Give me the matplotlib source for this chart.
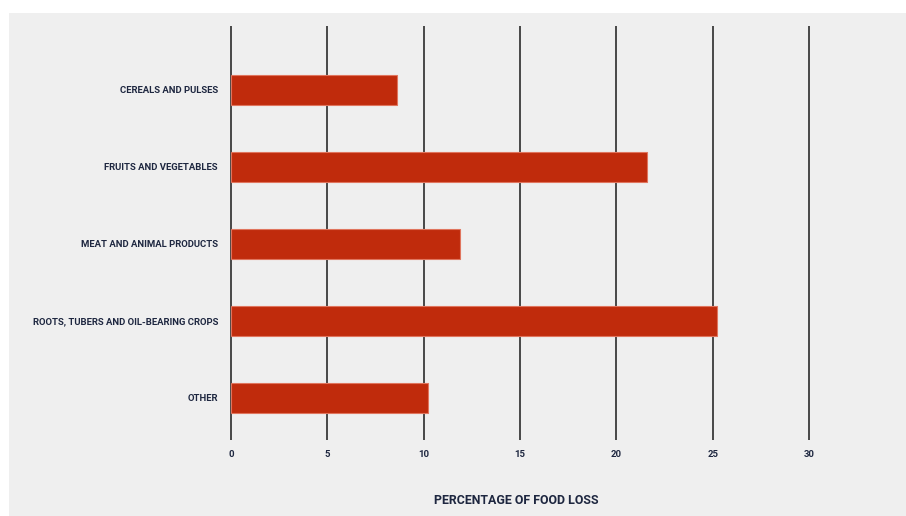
"""Food loss by commodity group, horizontal bar chart."""

import matplotlib

matplotlib.use("Agg")

import matplotlib.pyplot as plt  # noqa: E402
from matplotlib.patches import Rectangle  # noqa: E402

categories = [
    "CEREALS AND PULSES",
    "FRUITS AND VEGETABLES",
    "MEAT AND ANIMAL PRODUCTS",
    "ROOTS, TUBERS AND OIL-BEARING CROPS",
    "OTHER",
]
food_loss_pct = [8.6, 21.6, 11.9, 25.2, 10.2]
x_ticks = [0, 5, 10, 15, 20, 25, 30]

BAR = "#c02b0c"
TEXT = "#1e2740"
PANEL = "#efefef"
FONT = ["Roboto", "Liberation Sans", "DejaVu Sans"]

W, H = 906, 516
fig = plt.figure(figsize=(W / 100, H / 100), dpi=100, facecolor="white")
fig.patches.append(Rectangle((9 / W, 0), 1, 1 - 13 / H, transform=fig.transFigure,
                             facecolor=PANEL, edgecolor="none", zorder=-1))

# axes: x = 0 sits at px 231, x = 30 at px 809; pad half a unit on each side
unit = (809 - 231) / 30
left = 231 - 0.5 * unit
right = 809 + 0.5 * unit
top, bottom = 26, 440
ax = fig.add_axes([left / W, 1 - bottom / H, (right - left) / W, (bottom - top) / H])
ax.set_facecolor("none")

pos = list(range(len(categories)))
ax.barh(pos, food_loss_pct, height=0.39, color=BAR, edgecolor="#e0755e",
        linewidth=0.8, zorder=3)
for t in x_ticks:
    ax.axvline(t, color="#474747", linewidth=1.4, zorder=2)

ax.set_xlim(-0.5, 30.5)
ax.set_ylim(4.55, -0.83)
ax.set_yticks(pos)
ax.set_yticklabels(categories)
ax.set_xticks(x_ticks)
ax.set_xticklabels([str(t) for t in x_ticks])
ax.tick_params(length=0)
ax.tick_params(axis="y", pad=2.5)
ax.tick_params(axis="x", pad=7.5)
for lab in ax.get_yticklabels() + ax.get_xticklabels():
    lab.set_family(FONT)
    lab.set_fontweight("bold")
    lab.set_fontsize(6.8)
    lab.set_color(TEXT)
for s in ax.spines.values():
    s.set_visible(False)

fig.text(516 / W, 1 - 501 / H, "PERCENTAGE OF FOOD LOSS", ha="center", va="center",
         family=FONT, fontweight="bold", fontsize=8.9, color=TEXT)

fig.savefig("out.png", dpi=100, facecolor="white")
